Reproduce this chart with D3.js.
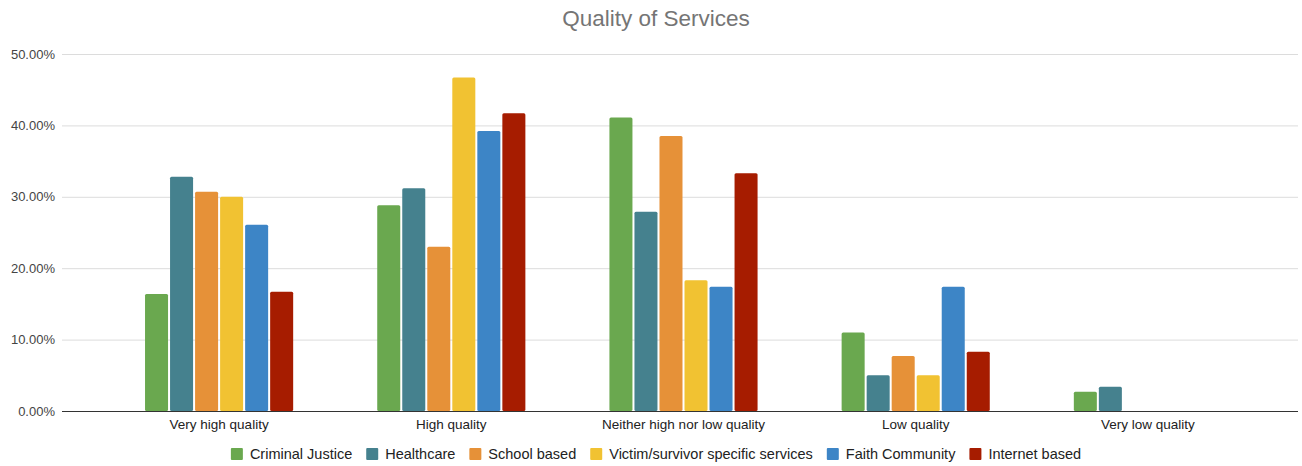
<!DOCTYPE html>
<html>
<head>
<meta charset="utf-8">
<script src="https://cdn.jsdelivr.net/npm/d3@7"></script>
<style>
  html, body { margin: 0; padding: 0; background: #fff; }
  svg { display: block; font-family: "Liberation Sans", Arial, Helvetica, sans-serif; }
</style>
</head>
<body>
<svg id="chart" width="1302" height="466"></svg>
<script>
// Rating categories along the x axis
const categories = ["Very high quality", "High quality", "Neither high nor low quality", "Low quality", "Very low quality"];

// Service types (one bar per type in every category)
const seriesNames = ["Criminal Justice", "Healthcare", "School based", "Victim/survivor specific services", "Faith Community", "Internet based"];
const seriesColors = ["#6aa84f", "#45818e", "#e69138", "#f1c232", "#3d85c6", "#a61c00"];

// Share of respondents (%) per service type, in category order
const criminalJustice = [16.4, 28.8, 41.1, 11.0, 2.7];
const healthcare      = [32.8, 31.2, 27.9, 5.0, 3.4];
const schoolBased     = [30.7, 23.0, 38.5, 7.7, 0];
const victimSurvivor  = [30.0, 46.7, 18.3, 5.0, 0];
const faithCommunity  = [26.1, 39.2, 17.4, 17.4, 0];
const internetBased   = [16.7, 41.7, 33.3, 8.3, 0];

const yTicks = [0, 10, 20, 30, 40, 50];

const seriesValues = [criminalJustice, healthcare, schoolBased, victimSurvivor, faithCommunity, internetBased];

const svg = d3.select("#chart");
const plot = { left: 62, right: 1298, top: 54, bottom: 411 };

const y = d3.scaleLinear().domain([0, 50]).range([plot.bottom, plot.top]);
const x0 = d3.scaleBand().domain(categories).range([103, 1264]).paddingInner(0.362).paddingOuter(0.181);
const x1 = d3.scaleBand().domain(seriesNames).range([0, x0.bandwidth()]).paddingInner(0.08).paddingOuter(0);

// Title
svg.append("text")
  .attr("x", 656).attr("y", 26)
  .attr("text-anchor", "middle")
  .attr("fill", "#757575")
  .style("font-size", "22.5px")
  .text("Quality of Services");

// Horizontal gridlines and y labels
const yAxis = d3.axisLeft(y).tickValues(yTicks).tickSize(-(plot.right - plot.left)).tickPadding(7)
  .tickFormat(d => d.toFixed(2) + "%");
const gy = svg.append("g").attr("transform", `translate(${plot.left},0)`).call(yAxis);
gy.select(".domain").remove();
gy.selectAll(".tick line").attr("stroke", "#dcdcdc").attr("stroke-width", 1);
gy.selectAll(".tick text").attr("fill", "#444").style("font-size", "13px").attr("x", -7);

// Bars
const groups = svg.append("g").selectAll("g")
  .data(categories)
  .join("g")
  .attr("transform", d => `translate(${x0(d)},0)`);

groups.selectAll("rect")
  .data((c, ci) => seriesNames.map((s, si) => ({ s, si, v: seriesValues[si][ci] })).filter(d => d.v > 0))
  .join("rect")
  .attr("x", d => x1(d.s))
  .attr("y", d => y(d.v))
  .attr("width", x1.bandwidth())
  .attr("height", d => y(0) - y(d.v))
  .attr("rx", 1.5)
  .attr("fill", d => seriesColors[d.si]);

// Baseline and category labels
const xAxis = d3.axisBottom(x0).tickSize(0).tickPadding(8);
const gx = svg.append("g").attr("transform", `translate(0,${plot.bottom})`).call(xAxis);
gx.select(".domain").remove();
gx.selectAll(".tick text").attr("fill", "#222").style("font-size", "13.5px");
svg.append("line")
  .attr("x1", plot.left).attr("x2", plot.right)
  .attr("y1", plot.bottom + 0.5).attr("y2", plot.bottom + 0.5)
  .attr("stroke", "#333").attr("stroke-width", 1);

// Legend
const legend = svg.append("g");
let cursor = 0;
seriesNames.forEach((name, i) => {
  const item = legend.append("g").attr("transform", `translate(${cursor},0)`);
  item.append("rect").attr("x", 0).attr("y", -6).attr("width", 12).attr("height", 12).attr("rx", 1)
    .attr("fill", seriesColors[i]);
  const t = item.append("text").attr("x", 19).attr("y", 5).attr("fill", "#222")
    .style("font-size", "14.5px").text(name);
  cursor += 19 + t.node().getComputedTextLength() + 14;
});
const legendWidth = cursor - 14;
legend.attr("transform", `translate(${656 - legendWidth / 2},454)`);
</script>
</body>
</html>
